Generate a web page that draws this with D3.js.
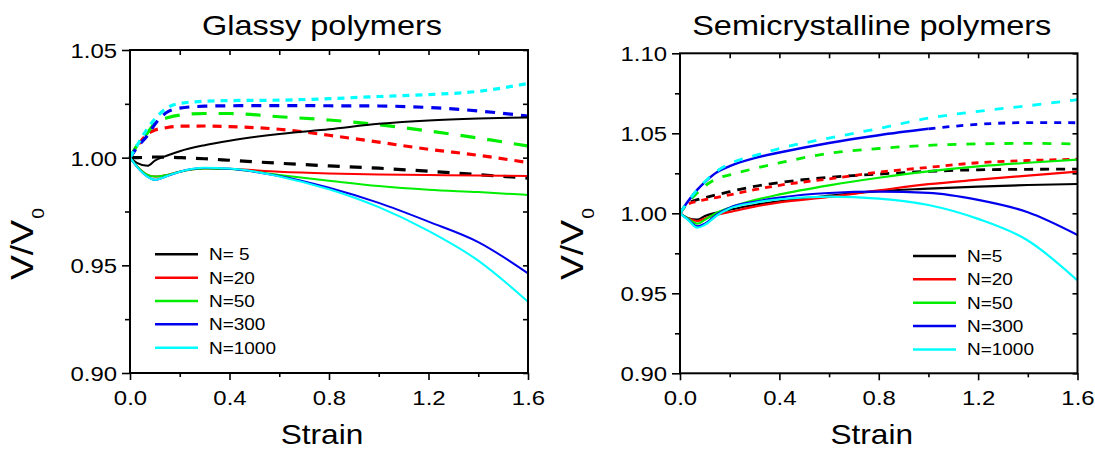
<!DOCTYPE html>
<html>
<head>
<meta charset="utf-8">
<script src="https://cdn.jsdelivr.net/npm/d3@7"></script>
<style>
  body { margin: 0; background: #fff; }
  svg { display: block; }
  text { font-family: "Liberation Sans", Arial, sans-serif; fill: #000; }
</style>
</head>
<body>
<svg id="chart" width="1095" height="449"></svg>
<script>
// strain grid shared by every curve
var strain = [0, 0.03, 0.07, 0.1, 0.15, 0.2, 0.3, 0.4, 0.6, 0.8, 1.0, 1.2, 1.4, 1.6];

// Glassy polymers - solid curves
var glassyN5    = [1.0, 0.9975, 0.9962, 0.9986, 1.001, 1.003, 1.0058, 1.0079, 1.011, 1.0132, 1.0157, 1.0173, 1.0182, 1.0187];
var glassyN20   = [1.0, 0.9958, 0.992, 0.9912, 0.992, 0.9935, 0.995, 0.9948, 0.9935, 0.9927, 0.9922, 0.9919, 0.9917, 0.9915];
var glassyN50   = [1.0, 0.9958, 0.992, 0.9912, 0.992, 0.9935, 0.995, 0.9947, 0.992, 0.9893, 0.9868, 0.9851, 0.984, 0.9827];
var glassyN300  = [1.0, 0.9955, 0.9912, 0.9897, 0.9915, 0.9935, 0.9952, 0.9948, 0.9915, 0.986, 0.979, 0.9703, 0.9608, 0.9463];
var glassyN1000 = [1.0, 0.9955, 0.9912, 0.9897, 0.9915, 0.9935, 0.9953, 0.995, 0.9913, 0.9853, 0.977, 0.966, 0.9522, 0.9331];
// Glassy polymers - dashed curves
var glassyN5d    = [1.0, 1.0, 1.0002, 1.0003, 1.0002, 1.0, 0.9995, 0.9988, 0.9974, 0.9962, 0.9951, 0.9937, 0.9921, 0.9905];
var glassyN20d   = [1.0, 1.0055, 1.011, 1.0128, 1.014, 1.0146, 1.0147, 1.0144, 1.0132, 1.0104, 1.0072, 1.0039, 1.0011, 0.9977];
var glassyN50d   = [1.0, 1.006, 1.0115, 1.016, 1.0185, 1.0198, 1.0205, 1.0205, 1.019, 1.0175, 1.0153, 1.0124, 1.0091, 1.0054];
var glassyN300d  = [1.0, 1.005, 1.0103, 1.0155, 1.0212, 1.023, 1.0239, 1.0241, 1.0242, 1.0241, 1.024, 1.0233, 1.0217, 1.0193];
var glassyN1000d = [1.0, 1.006, 1.0135, 1.018, 1.0232, 1.0252, 1.0262, 1.0265, 1.0267, 1.0274, 1.0284, 1.0293, 1.0308, 1.0345];

// Semicrystalline polymers - solid curves
var semiN5    = [1.0, 0.997, 0.996, 0.9983, 1.0005, 1.0022, 1.0052, 1.0075, 1.011, 1.0139, 1.0154, 1.0167, 1.0177, 1.0183];
var semiN20   = [1.0, 0.997, 0.9952, 0.9968, 0.9992, 1.0008, 1.0042, 1.0068, 1.0102, 1.0143, 1.0182, 1.021, 1.0236, 1.026];
var semiN50   = [1.0, 0.997, 0.9935, 0.996, 1.0005, 1.0035, 1.0082, 1.0118, 1.0175, 1.0222, 1.0262, 1.0293, 1.0316, 1.0335];
var semiN300  = [1.0, 0.9965, 0.9918, 0.9935, 0.9995, 1.0035, 1.0072, 1.0098, 1.0127, 1.0135, 1.0128, 1.0084, 1.0007, 0.9865];
var semiN1000 = [1.0, 0.9962, 0.991, 0.9928, 0.9988, 1.003, 1.0066, 1.0088, 1.0104, 1.0092, 1.0052, 0.9965, 0.983, 0.958];
// Semicrystalline polymers - dashed curves
var semiN5d    = [1.0, 1.006, 1.0085, 1.0097, 1.0117, 1.0135, 1.0168, 1.0192, 1.0225, 1.0245, 1.0262, 1.0272, 1.0275, 1.0276];
var semiN20d   = [1.0, 1.0055, 1.0075, 1.0085, 1.01, 1.0115, 1.0148, 1.0175, 1.0215, 1.0257, 1.0287, 1.0316, 1.033, 1.0338];
var semiN50d   = [1.0, 1.0065, 1.0128, 1.017, 1.0218, 1.024, 1.028, 1.0315, 1.0375, 1.0405, 1.0425, 1.0434, 1.0437, 1.0433];
var semiN300d  = [1.0, 1.007, 1.0148, 1.0195, 1.0258, 1.0295, 1.0345, 1.038, 1.044, 1.0488, 1.0528, 1.0556, 1.0567, 1.0566];
var semiN1000d = [1.0, 1.007, 1.0148, 1.0198, 1.0265, 1.031, 1.036, 1.0405, 1.047, 1.053, 1.0595, 1.0637, 1.0672, 1.071];

var glassyLabels = ["N= 5", "N=20", "N=50", "N=300", "N=1000"];
var semiLabels = ["N=5", "N=20", "N=50", "N=300", "N=1000"];

var xMajor = [0, 0.4, 0.8, 1.2, 1.6];
var xMinor = [0.2, 0.6, 1.0, 1.4];
var xTop = [0.2, 0.4, 0.6, 0.8, 1.0, 1.2, 1.4];
var glassyYMajor = [0.90, 0.95, 1.00, 1.05];
var glassyYMinor = [0.925, 0.975, 1.025];
var semiYMajor = [0.90, 0.95, 1.00, 1.05, 1.10];
var semiYMinor = [0.925, 0.975, 1.025, 1.075];

var colors = ["#000000", "#ff0000", "#00ee00", "#0000ee", "#00ffff"];
var TEXT_SX = 1.14;

var svg = d3.select("#chart");

function stretchText(parent, x, y, str, size, anchor, sx) {
  var g = parent.append("g")
    .attr("transform", "translate(" + x + "," + y + ") scale(" + sx + ",1)");
  return g.append("text")
    .attr("text-anchor", anchor)
    .attr("font-size", size)
    .text(str);
}

function pts(vals) {
  return strain.map(function(s, i) { return [s, vals[i]]; });
}

function drawPanel(p) {
  var x = d3.scaleLinear().domain([0, 1.6]).range([p.left, p.left + p.width]);
  var y = d3.scaleLinear().domain(p.yDomain).range([p.top + p.height, p.top]);
  var g = svg.append("g");

  var line = d3.line()
    .x(function(d) { return x(d[0]); })
    .y(function(d) { return y(d[1]); })
    .curve(d3.curveMonotoneX);

  // dashed curves first, solid on top
  p.dashed.forEach(function(vals, i) {
    var data = pts(vals);
    if (p.solidUntil && p.solidUntil[i]) {
      // this one looks solid up to some strain, then dashed
      var cut = p.solidUntil[i];
      g.append("path")
        .datum(data.filter(function(d) { return d[0] <= cut; }))
        .attr("d", line).attr("fill", "none")
        .attr("stroke", colors[i]).attr("stroke-width", p.solidWidth + 0.3);
      data = data.filter(function(d) { return d[0] >= cut; });
    }
    g.append("path")
      .datum(data)
      .attr("d", line)
      .attr("fill", "none")
      .attr("stroke", colors[i])
      .attr("stroke-width", p.dashWidth)
      .attr("stroke-dasharray", p.dashes[i]);
  });

  p.solid.forEach(function(vals, i) {
    g.append("path")
      .datum(pts(vals))
      .attr("d", line)
      .attr("fill", "none")
      .attr("stroke", colors[i])
      .attr("stroke-width", p.solidWidth);
  });

  function noDomain(a) { a.select(".domain").remove(); }
  var bottom = p.top + p.height;

  // bottom axis
  var bx = g.append("g")
    .attr("transform", "translate(0," + bottom + ")")
    .call(d3.axisBottom(x).tickValues(xMajor).tickSize(7).tickFormat(d3.format(".1f")))
    .call(noDomain);
  bx.selectAll("text")
    .attr("y", 32).attr("dy", 0)
    .attr("font-size", 21)
    .attr("transform", "scale(" + TEXT_SX + ",1)");
  g.append("g")
    .attr("transform", "translate(0," + bottom + ")")
    .call(d3.axisBottom(x).tickValues(xMinor).tickSize(4).tickFormat(""))
    .call(noDomain);

  // left axis
  var ly = g.append("g")
    .attr("transform", "translate(" + p.left + ",0)")
    .call(d3.axisLeft(y).tickValues(p.yMajor).tickSize(8).tickFormat(d3.format(".2f")))
    .call(noDomain);
  ly.selectAll("text")
    .attr("x", -13 / TEXT_SX).attr("dy", "0.36em")
    .attr("font-size", 21)
    .attr("transform", "scale(" + TEXT_SX + ",1)");
  g.append("g")
    .attr("transform", "translate(" + p.left + ",0)")
    .call(d3.axisLeft(y).tickValues(p.yMinor).tickSize(5).tickFormat(""))
    .call(noDomain);

  // mirror ticks, inward
  g.append("g")
    .attr("transform", "translate(0," + p.top + ")")
    .call(d3.axisTop(x).tickValues(xTop).tickSize(-5).tickFormat(""))
    .call(noDomain);
  g.append("g")
    .attr("transform", "translate(" + (p.left + p.width) + ",0)")
    .call(d3.axisRight(y).tickValues(p.yMajor.concat(p.yMinor)).tickSize(-5).tickFormat(""))
    .call(noDomain);

  g.selectAll(".tick line").attr("stroke", "#000").attr("stroke-width", 1.6);
  g.selectAll(".tick text").attr("fill", "#000").attr("font-family", "Liberation Sans, Arial, sans-serif");

  // frame
  g.append("rect")
    .attr("x", p.left).attr("y", p.top)
    .attr("width", p.width).attr("height", p.height)
    .attr("fill", "none").attr("stroke", "#000").attr("stroke-width", 2);

  // legend (solid styles only)
  p.labels.forEach(function(lab, i) {
    var ly0 = p.legendY + i * 23.35;
    g.append("line")
      .attr("x1", p.legendX).attr("x2", p.legendX + 43)
      .attr("y1", ly0).attr("y2", ly0)
      .attr("stroke", colors[i]).attr("stroke-width", 2.5);
    stretchText(g, p.legendX + 54, ly0 + 6, lab, 16.8, "start", 1.13);
  });

  var cx = p.left + p.width / 2 - 7;
  stretchText(g, cx, 35, p.title, 28, "middle", 1.16);
  stretchText(g, cx, 444, "Strain", 28, "middle", 1.13);

  // y label V/V0
  var yl = g.append("g")
    .attr("transform", "translate(" + (p.left - 96.7) + ",280) rotate(-90) scale(1.2,1)")
    .append("text")
    .attr("font-size", 31);
  yl.append("tspan").text("V/V");
  yl.append("tspan").attr("font-size", 16).attr("dy", 11).attr("dx", 1).text("0");
}

drawPanel({
  left: 130, top: 50, width: 398, height: 323,
  yDomain: [0.90, 1.05], yMajor: glassyYMajor, yMinor: glassyYMinor,
  solid: [glassyN5, glassyN20, glassyN50, glassyN300, glassyN1000],
  dashed: [glassyN5d, glassyN20d, glassyN50d, glassyN300d, glassyN1000d],
  dashes: ["12,10", "9,7", "15,12", "10,8", "7,6"],
  solidWidth: 2, dashWidth: 3.2,
  labels: glassyLabels, legendX: 155, legendY: 254.3,
  title: "Glassy polymers"
});

drawPanel({
  left: 680, top: 53.3, width: 397.5, height: 320,
  yDomain: [0.90, 1.10], yMajor: semiYMajor, yMinor: semiYMinor,
  solid: [semiN5, semiN20, semiN50, semiN300, semiN1000],
  dashed: [semiN5d, semiN20d, semiN50d, semiN300d, semiN1000d],
  solidUntil: [0, 0, 0, 1.0, 0],
  dashes: ["9,7", "7,6", "9,10", "7,7", "9,10"],
  solidWidth: 2.2, dashWidth: 2.8,
  labels: semiLabels, legendX: 913, legendY: 256,
  title: "Semicrystalline polymers"
});
</script>
</body>
</html>
